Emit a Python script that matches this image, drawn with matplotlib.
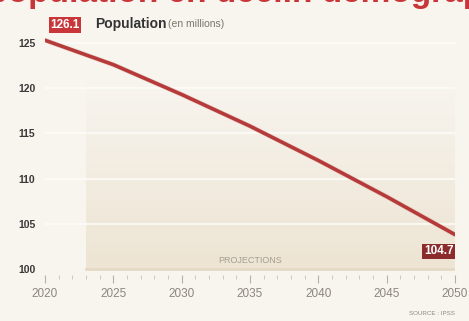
import numpy as np
import matplotlib
matplotlib.use('Agg')
import matplotlib.pyplot as plt
from matplotlib.ticker import MultipleLocator

years = [2020, 2025, 2030, 2035, 2040, 2045, 2050]
population = [125.3, 122.6, 119.3, 115.8, 112.0, 108.0, 103.8]
start_label = '126.1'
end_label = '104.7'
y_ticks = [100, 105, 110, 115, 120, 125]
x_ticks = [2020, 2025, 2030, 2035, 2040, 2045, 2050]
projection_start = 2023

plt.rcParams['font.family'] = ['Liberation Sans', 'DejaVu Sans']

bg = '#f8f5ef'
red = '#b73a3a'
dark_red = '#8c2b2b'

fig = plt.figure(figsize=(4.69, 3.21), dpi=100, facecolor=bg)
ax = fig.add_axes([45 / 469, 0.1424, 410 / 469, 0.766])
ax.set_facecolor(bg)
ax.set_xlim(2020, 2050)
ax.set_ylim(99.3, 126.5)

# projection area, gradient fading upwards
grad = np.linspace(0, 1, 100).reshape(-1, 1)
cmap = matplotlib.colors.LinearSegmentedColormap.from_list('p', ['#ede4d3', bg])
ax.imshow(grad, extent=[projection_start, 2050, 100, 121], aspect='auto',
          cmap=cmap, origin='lower', zorder=0)

for t in y_ticks[1:]:
    ax.axhline(t, color='#fdfcf9', lw=1.2, zorder=1)
ax.plot([projection_start, 2050], [100, 100], color='#e3d9c6', lw=2, zorder=1)
ax.text(2035, 100.4, 'PROJECTIONS', ha='center', va='bottom', fontsize=6.5,
        color='#a59d93', zorder=2)

ax.plot(years, population, color='#d9b8b0', lw=3.5, alpha=0.5, zorder=3,
        solid_capstyle='round')
ax.plot(years, population, color=red, lw=2.6, zorder=4, solid_capstyle='round')

for s in ax.spines.values():
    s.set_visible(False)
ax.set_yticks(y_ticks)
ax.set_xticks(x_ticks)
ax.xaxis.set_minor_locator(MultipleLocator(1))
ax.tick_params(axis='y', length=0, pad=7, labelsize=7.5, labelcolor='#3a3a3a')
for lab in ax.get_yticklabels():
    lab.set_fontweight('bold')
ax.tick_params(axis='x', which='major', length=6, color='#b8b0a4',
               labelsize=8.5, labelcolor='#8d867d', pad=3)
ax.tick_params(axis='x', which='minor', length=3, color='#c8c0b4')

# labels
fig.text(65 / 469, 1 - 25 / 321, start_label, ha='center', va='center',
         fontsize=8.5, color='white', fontweight='bold',
         bbox=dict(boxstyle='square,pad=0.15', fc='#c9363a', ec='none'))
fig.text(95 / 469, 1 - 24 / 321, 'Population', fontsize=10,
         fontweight='bold', color='#333333', va='center')
fig.text(168 / 469, 1 - 24 / 321, '(en millions)', fontsize=7.5,
         color='#7a746c', va='center')
ax.text(2049.9, population[-1] - 1.2, end_label, ha='right', va='top',
        fontsize=8.5, color='white', fontweight='bold',
        bbox=dict(boxstyle='square,pad=0.15', fc=dark_red, ec='none'), zorder=5)

fig.text(0.97, 0.02, 'SOURCE : IPSS', ha='right', fontsize=4.5,
         color='#8d867d')
fig.text(0.52, 1 - 2 / 321, 'Une population en déclin démographique',
         ha='center', va='baseline', fontsize=24, fontweight='bold',
         color='#c9363a')

fig.savefig('out.png', dpi=100, facecolor=bg)
